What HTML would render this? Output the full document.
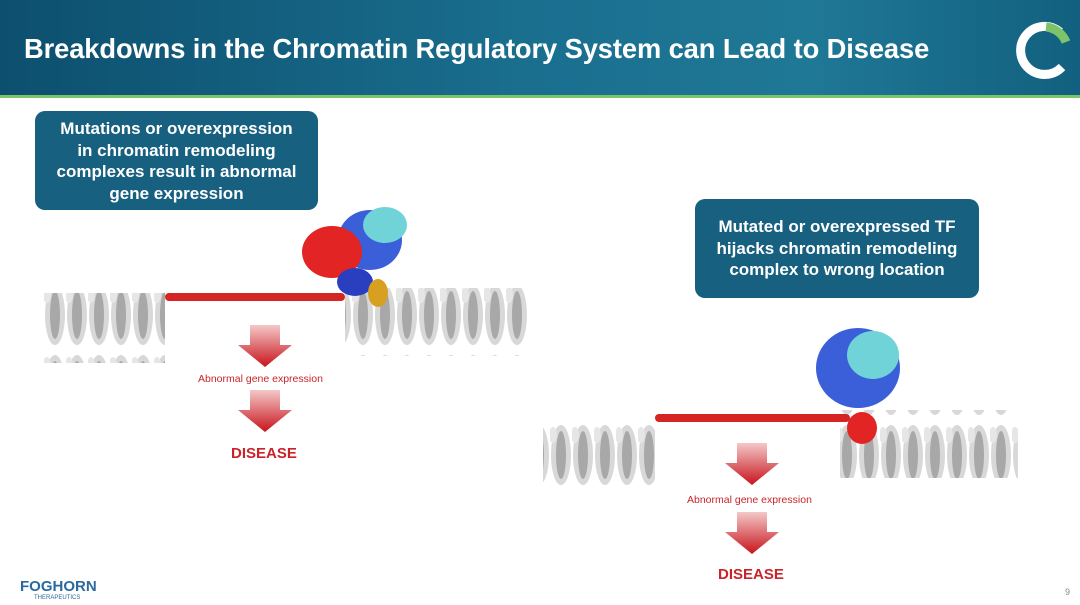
<!DOCTYPE html>
<html><head><style>
body{margin:0;width:1080px;height:605px;overflow:hidden;background:#fff;font-family:"Liberation Sans",sans-serif;position:relative}
.hdr{position:absolute;left:0;top:0;width:1080px;height:95px;background:linear-gradient(90deg,#0d4f6e,#1a6f8f 50%,#1f7896 75%,#12607f);}
.gl{position:absolute;left:0;top:95px;width:1080px;height:3px;background:#7cc46a}
.title{position:absolute;left:24px;top:33px;color:#fff;font-weight:bold;font-size:27.3px;letter-spacing:-0.1px;white-space:nowrap}
.box{position:absolute;background:#17607f;color:#fff;font-weight:bold;text-align:center;border-radius:10px;font-size:17px;line-height:21.5px;white-space:nowrap}
.lbl{position:absolute;font-size:10.5px;color:#c8242a}
.dis{position:absolute;font-weight:bold;font-size:15px;color:#c8242a}
</style></head><body>
<div class="hdr"></div><div class="gl"></div>
<div class="title">Breakdowns in the Chromatin Regulatory System can Lead to Disease</div>
<svg style="position:absolute;left:1010px;top:18px" width="66" height="62"><path d="M50 14 A24 24 0 1 0 52 49" stroke="#fff" stroke-width="9" fill="none"/><path d="M36 9 A24 24 0 0 1 56 24" stroke="#7cc46a" stroke-width="9" fill="none"/></svg>
<div class="box" style="left:35px;top:111px;width:283px;height:99px;padding-top:7px;box-sizing:border-box">Mutations or overexpression<br>in chromatin remodeling<br>complexes result in abnormal<br>gene expression</div>
<div class="box" style="left:695px;top:199px;width:284px;height:99px;padding-top:17px;box-sizing:border-box">Mutated or overexpressed TF<br>hijacks chromatin remodeling<br>complex to wrong location</div>
<svg style="position:absolute;left:0;top:0" width="1080" height="605">
<defs><pattern id="dna" width="22" height="70" patternUnits="userSpaceOnUse"><ellipse cx="11" cy="35" rx="10" ry="30" fill="#d8d8d8"/><ellipse cx="11" cy="35" rx="5" ry="24" fill="#a8a8a8"/><ellipse cx="3" cy="15" rx="4" ry="8" fill="#e6e6e6"/></pattern>
<linearGradient id="ar" x1="0" y1="0" x2="0" y2="1"><stop offset="0" stop-color="#f4c8c8"/><stop offset="1" stop-color="#c8141c"/></linearGradient></defs>
<rect x="43" y="293" width="122" height="70" fill="url(#dna)"/>
<rect x="345" y="288" width="183" height="68" fill="url(#dna)"/>
<rect x="165" y="293" width="180" height="8" fill="#d42424" rx="4"/>
<ellipse cx="370" cy="240" rx="32" ry="30" fill="#3a5fd8"/><ellipse cx="385" cy="225" rx="22" ry="18" fill="#6fd3d8"/>
<ellipse cx="332" cy="252" rx="30" ry="26" fill="#e32424"/><ellipse cx="355" cy="282" rx="18" ry="14" fill="#2a3fc0"/>
<ellipse cx="378" cy="293" rx="10" ry="14" fill="#d8a020"/>
<rect x="543" y="415" width="112" height="75" fill="url(#dna)"/>
<rect x="840" y="410" width="178" height="68" fill="url(#dna)"/>
<rect x="655" y="414" width="195" height="8" fill="#d42424" rx="4"/>
<ellipse cx="858" cy="368" rx="42" ry="40" fill="#3a5fd8"/><ellipse cx="873" cy="355" rx="26" ry="24" fill="#6fd3d8"/>
<ellipse cx="862" cy="428" rx="15" ry="16" fill="#e32424"/>
<path d="M250 325h30v20h12l-27 22-27-22h12z" fill="url(#ar)"/>
<path d="M250 390h30v20h12l-27 22-27-22h12z" fill="url(#ar)"/>
<path d="M737 443h30v20h12l-27 22-27-22h12z" fill="url(#ar)"/>
<path d="M737 512h30v20h12l-27 22-27-22h12z" fill="url(#ar)"/>
</svg>
<div class="lbl" style="left:198px;top:373px">Abnormal gene expression</div>
<div class="dis" style="left:231px;top:445px">DISEASE</div>
<div class="lbl" style="left:687px;top:494px">Abnormal gene expression</div>
<div class="dis" style="left:718px;top:566px">DISEASE</div>
<div style="position:absolute;left:20px;top:578px;font-weight:bold;font-size:15px;color:#2a6aa0">FOGHORN</div>
<div style="position:absolute;left:34px;top:595px;font-size:6px;color:#2a6aa0">THERAPEUTICS</div>
<div style="position:absolute;left:1065px;top:587px;font-size:9px;color:#888">9</div>
</body></html>
